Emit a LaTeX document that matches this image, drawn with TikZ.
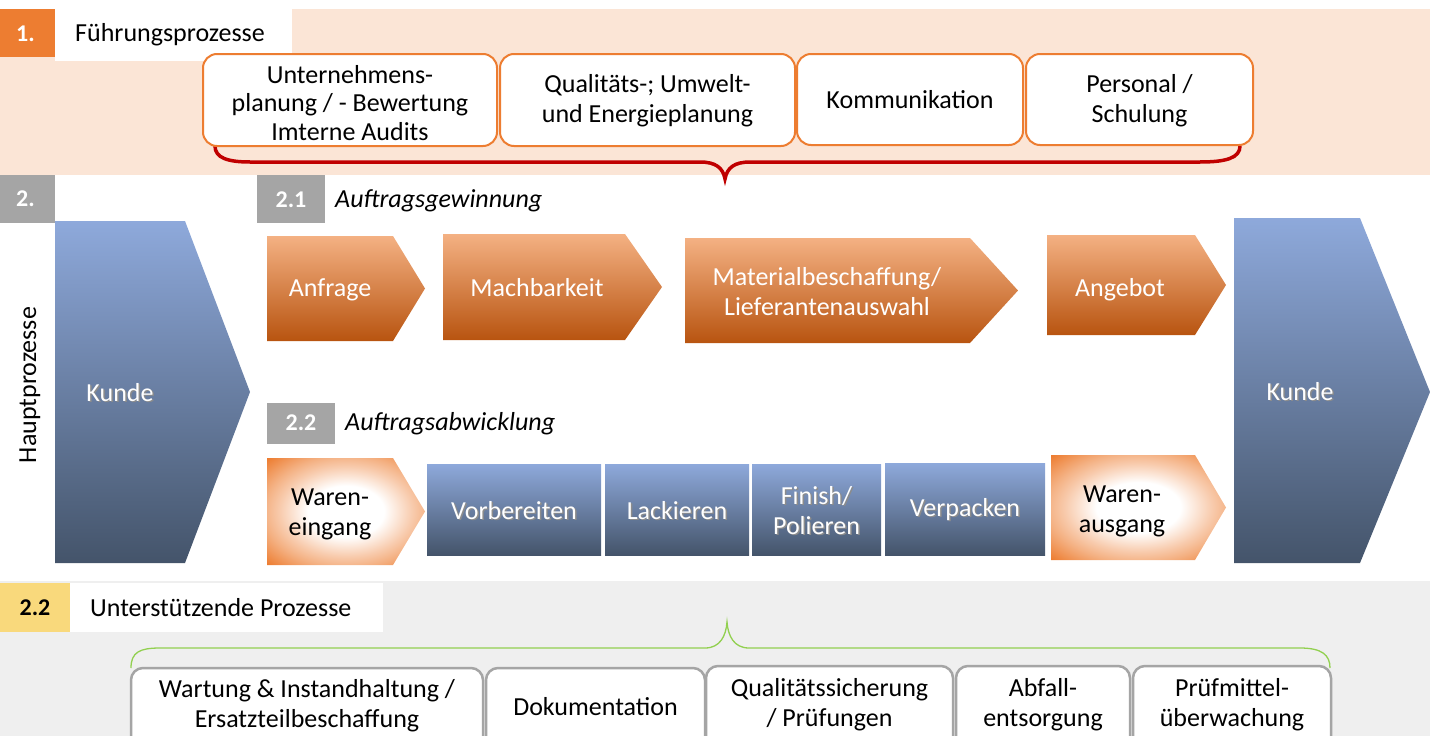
\documentclass[tikz,border=0pt]{standalone}
\usepackage{fontspec}
\setmainfont{Carlito}
\definecolor{peach}{HTML}{FBE5D6}
\definecolor{org}{HTML}{ED7D31}
\definecolor{orgL}{HTML}{F4B183}
\definecolor{orgLL}{HTML}{F8CBAD}
\definecolor{orgM}{HTML}{F09A5C}
\definecolor{orgD}{HTML}{B85410}
\definecolor{bluL}{HTML}{8EA9DB}
\definecolor{bluM}{HTML}{4472C4}
\definecolor{bluD}{HTML}{44546A}
\definecolor{gry}{HTML}{A5A5A5}
\definecolor{bggray}{HTML}{EFEFEF}
\definecolor{yel}{HTML}{F9D97C}
\definecolor{bred}{HTML}{C00000}
\definecolor{bgreen}{HTML}{92D050}
\pgfdeclareradialshading{glow}{\pgfpoint{0bp}{0bp}}{color(0bp)=(white); color(12bp)=(white); color(21bp)=(orgLL); color(26bp)=(orgL); color(35bp)=(org); color(50bp)=(org)}
\newcommand\shd[1]{\leavevmode\rlap{\hspace{1.5pt}\raisebox{-1.5pt}{\textcolor{black!45}{#1}}}#1}
\tikzset{
  topbox/.style={draw=org, line width=2pt, fill=white, rounded corners=14pt},
  botbox/.style={draw=gry, line width=2.5pt, fill=white, rounded corners=12pt},
  numlbl/.style={font=\fontsize{24}{28}\selectfont\bfseries, text=white, inner sep=0pt},
  txt/.style={align=center, inner sep=0pt},
  wtxt/.style={txt, text=white},
  orgshade/.style={top color=orgL, middle color=org, bottom color=orgD},
  blushade/.style={top color=bluL, middle color=bluM, bottom color=bluD},
}
\begin{document}
\begin{tikzpicture}[x=1pt,y=-1pt, font=\fontsize{26}{30}\selectfont]
\useasboundingbox (0,0) rectangle (1430,736);
\clip (0,0) rectangle (1430,736);
% ---------- section 1 ----------
\fill[peach] (0,9) rectangle (1430,175);
\fill[white] (55,9) rectangle (292,61);
\fill[org] (0,9) rectangle (55,57);
\node[numlbl] (n1) at (25.5,34) {1.};
\node[txt, anchor=west] (t1) at (75,35) {Führungsprozesse};
% red brace
\coordinate (rbl) at (215,146);
\coordinate (rbt) at (725,179);
\coordinate (rbr) at (1240,146);
\draw[bred, line width=3.5pt] (rbl) .. controls (215,158) and (228,162) .. (250,162) -- (700,162)
  .. controls (716,162) and (723,168) .. (rbt) .. controls (727,168) and (734,162) .. (750,162)
  -- (1200,162) .. controls (1226,162) and (1240,158) .. (rbr);
\draw[topbox] (203,54) rectangle (497,146);
\draw[topbox] (500,54) rectangle (795,146);
\draw[topbox] (797,54) rectangle (1023,145);
\draw[topbox] (1026,54) rectangle (1253,145);
\node[txt, font=\fontsize{26}{28.5}\selectfont] (u1) at (350,103) {Unternehmens-\\planung / - Bewertung\\Imterne Audits};
\node[txt] (u2) at (647.5,101) {Qualitäts-; Umwelt-\\und Energieplanung};
\node[txt] (u3) at (910,100) {Kommunikation};
\node[txt] (u4) at (1139.5,101) {Personal /\\Schulung};
% ---------- section 2 ----------
\fill[gry] (0,175) rectangle (55,223);
\node[numlbl] (n2) at (25.5,199) {2.};
\node[txt, rotate=90] (hp) at (30,385) {Hauptprozesse};
\shade[blushade] (55,221) -- (185,221) -- (250,392) -- (185,563) -- (55,563) -- cycle;
\node[wtxt] (k1) at (120,393) {\shd{Kunde}};
\shade[blushade] (1234,218) -- (1360,218) -- (1430,392) -- (1360,563) -- (1234,563) -- cycle;
\node[wtxt] (k2) at (1300,392) {\shd{Kunde}};
% 2.1
\fill[gry] (257,175) rectangle (325,223);
\node[numlbl] (n21) at (291,200) {2.1};
\node[txt, anchor=west, font=\fontsize{26}{30}\selectfont\itshape] (t21) at (335,201) {Auftragsgewinnung};
\shade[orgshade] (267,236) -- (393,236) -- (425,288.5) -- (393,341) -- (267,341) -- cycle;
\node[wtxt] (a1) at (330,290) {Anfrage};
\shade[orgshade] (443,234) -- (625,234) -- (662,287) -- (625,340) -- (443,340) -- cycle;
\node[wtxt] (a2) at (537,288) {Machbarkeit};
\shade[orgshade] (685,238) -- (970,238) -- (1018,290.5) -- (970,343) -- (685,343) -- cycle;
\node[wtxt] (a3) at (827,292) {Materialbeschaffung/\\Lieferantenauswahl};
\shade[orgshade] (1047,235) -- (1195,235) -- (1226,285) -- (1195,335) -- (1047,335) -- cycle;
\node[wtxt] (a4) at (1120,290) {Angebot};
% 2.2
\fill[gry] (267,403) rectangle (335,444);
\node[numlbl] (n22) at (301,423) {2.2};
\node[txt, anchor=west, font=\fontsize{26}{30}\selectfont\itshape] (t22) at (345,424) {Auftragsabwicklung};
\shade[shading=glow] (267,458) -- (393,458) -- (425,511.5) -- (393,565) -- (267,565) -- cycle;
\node[txt] (w1) at (330,514) {Waren-\\eingang};
\shade[blushade] (427,464) rectangle (601,555);
\node[wtxt] (b1) at (514,511) {\shd{Vorbereiten}};
\shade[blushade] (605,464) rectangle (749,555);
\node[wtxt] (b2) at (677,511) {\shd{Lackieren}};
\shade[blushade] (752,464) rectangle (881,555);
\node[wtxt] (b3) at (816.5,511) {\shd{Finish/}\\\shd{Polieren}};
\shade[blushade] (885,463) rectangle (1045,555);
\node[wtxt] (b4) at (965,510) {\shd{Verpacken}};
\shade[shading=glow] (1051,455) -- (1195,455) -- (1226,507.5) -- (1195,560) -- (1051,560) -- cycle;
\node[txt] (w2) at (1122,511) {Waren-\\ausgang};
% ---------- section 3 ----------
\fill[bggray] (0,581) rectangle (1430,736);
\fill[yel] (0,583) rectangle (70,632);
\fill[white] (70,583) rectangle (383,632);
\node[font=\fontsize{24}{28}\selectfont\bfseries, inner sep=0pt] (n3) at (35,608) {2.2};
\node[txt, anchor=west] (t3) at (90,608) {Unterstützende Prozesse};
% green brace
\coordinate (gbl) at (131,668);
\coordinate (gbt) at (727,622);
\coordinate (gbr) at (1330,668);
\draw[bgreen, line width=1.3pt] (gbl) .. controls (131,652) and (140,648) .. (160,648) -- (705,648)
  .. controls (720,648) and (726,636) .. (gbt) .. controls (728,636) and (734,648) .. (749,648)
  -- (1300,648) .. controls (1322,648) and (1330,655) .. (gbr);
\draw[botbox] (131,668) rectangle (483,760);
\draw[botbox] (486,668) rectangle (705,760);
\draw[botbox] (706,666) rectangle (953,760);
\draw[botbox] (956,666) rectangle (1130,760);
\draw[botbox] (1133,666) rectangle (1331,760);
\node[txt] (s1) at (307,706) {Wartung \& Instandhaltung /\\Ersatzteilbeschaffung};
\node[txt] (s2) at (595.5,707) {Dokumentation};
\node[txt] (s3) at (829.5,705) {Qualitätssicherung\\/ Prüfungen};
\node[txt] (s4) at (1043,705) {Abfall-\\entsorgung};
\node[txt] (s5) at (1232,705) {Prüfmittel-\\überwachung};
\end{tikzpicture}
\end{document}
